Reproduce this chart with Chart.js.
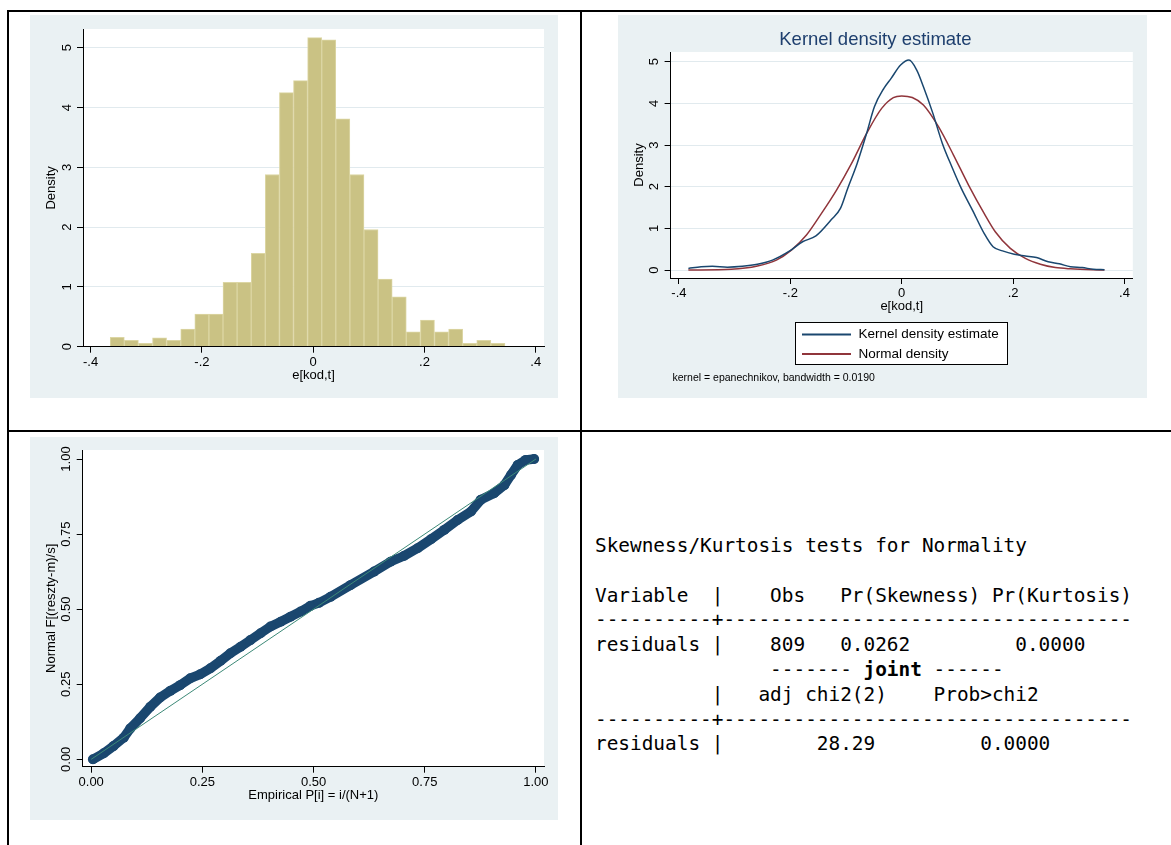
<!DOCTYPE html>
<html>
<head>
<meta charset="utf-8">
<title>Residual diagnostics</title>
<script src="https://cdn.jsdelivr.net/npm/chart.js@4.4.1/dist/chart.umd.min.js"></script>
<style>
  body { margin: 0; width: 1171px; height: 845px; background: #fff; position: relative; overflow: hidden; }
  .rule { position: absolute; background: #000; }
  .panel { position: absolute; background: #eaf1f3; }
  .panel canvas { display: block; }
  #sktest { position: absolute; left: 595px; top: 534px; margin: 0; color: #000;
            font: 19.4px/24.8px "DejaVu Sans Mono", monospace; white-space: pre; }
</style>
</head>
<body>
<!-- table rules -->
<div class="rule" style="left:7px;top:10px;width:1164px;height:2px"></div>
<div class="rule" style="left:7px;top:10px;width:2px;height:835px"></div>
<div class="rule" style="left:580px;top:10px;width:2px;height:835px"></div>
<div class="rule" style="left:7px;top:430px;width:1164px;height:2px"></div>

<div class="panel" style="left:30px;top:15px;width:528px;height:383px"><canvas id="hist" width="528" height="383"></canvas></div>
<div class="panel" style="left:618px;top:15px;width:529px;height:383px"><canvas id="kdens" width="529" height="383"></canvas></div>
<div class="panel" style="left:30px;top:437px;width:528px;height:383px"><canvas id="pnorm" width="528" height="383"></canvas></div>

<pre id="sktest">Skewness/Kurtosis tests for Normality

Variable  |    Obs   Pr(Skewness) Pr(Kurtosis)
----------+-----------------------------------
residuals |    809   0.0262         0.0000
               ------- <b>joint</b> ------
          |   adj chi2(2)    Prob>chi2
----------+-----------------------------------
residuals |        28.29         0.0000</pre>

<script>
// histogram of e[kod,t] (28 bins)
const binCenters = [-0.3521, -0.3268, -0.3014, -0.2761, -0.2507, -0.2254, -0.2001, -0.1747, -0.1494, -0.1240,
  -0.0987, -0.0734, -0.0480, -0.0227, 0.0027, 0.0280, 0.0533, 0.0787, 0.1040, 0.1294,
  0.1547, 0.1800, 0.2054, 0.2307, 0.2561, 0.2814, 0.3067, 0.3321];
const binDensity = [0.156, 0.106, 0.056, 0.150, 0.106, 0.295, 0.546, 0.546, 1.076, 1.076,
  1.56, 2.88, 4.25, 4.45, 5.17, 5.13, 3.81, 2.88, 1.96, 1.13,
  0.836, 0.25, 0.446, 0.25, 0.295, 0.056, 0.106, 0.056];

// kernel density estimate vs normal density
const kdeX = [-0.383, -0.36, -0.34, -0.313, -0.286, -0.259, -0.232, -0.201, -0.178, -0.154,
  -0.127, -0.110, -0.097, -0.080, -0.063, -0.049, -0.032, -0.019, -0.002, 0.013,
  0.027, 0.039, 0.056, 0.073, 0.090, 0.107, 0.127, 0.148, 0.164, 0.181,
  0.202, 0.222, 0.242, 0.263, 0.283, 0.303, 0.324, 0.344, 0.364];
const kdeY = [0.04, 0.08, 0.09, 0.07, 0.09, 0.14, 0.24, 0.46, 0.68, 0.82,
  1.2, 1.48, 1.96, 2.56, 3.28, 3.92, 4.36, 4.6, 4.92, 5.04,
  4.8, 4.4, 3.76, 3.04, 2.48, 1.96, 1.44, 0.88, 0.56, 0.46,
  0.38, 0.34, 0.3, 0.2, 0.15, 0.08, 0.06, 0.02, 0.01];
const normX = [-0.383, -0.306, -0.259, -0.225, -0.198, -0.171, -0.144, -0.117, -0.090, -0.063,
  -0.036, -0.015, 0, 0.019, 0.039, 0.066, 0.093, 0.120, 0.148, 0.168,
  0.195, 0.222, 0.249, 0.276, 0.303, 0.364];
const normY = [0.0, 0.02, 0.1, 0.24, 0.48, 0.84, 1.36, 1.92, 2.56, 3.28,
  3.88, 4.14, 4.18, 4.14, 3.96, 3.44, 2.76, 2.04, 1.36, 0.92,
  0.52, 0.28, 0.14, 0.06, 0.03, 0.0];

// standardized normal probability plot
const ppX = [0.004, 0.028, 0.050, 0.073, 0.088, 0.110, 0.133, 0.155, 0.178, 0.200,
  0.223, 0.245, 0.268, 0.291, 0.313, 0.336, 0.358, 0.381, 0.403, 0.426,
  0.448, 0.471, 0.493, 0.512, 0.538, 0.583, 0.636, 0.673, 0.703, 0.734,
  0.764, 0.794, 0.824, 0.854, 0.876, 0.906, 0.929, 0.944, 0.959, 0.977, 0.996];
const ppY = [0.000, 0.020, 0.044, 0.072, 0.103, 0.137, 0.175, 0.206, 0.228, 0.247,
  0.270, 0.283, 0.303, 0.328, 0.353, 0.375, 0.397, 0.420, 0.442, 0.458,
  0.475, 0.492, 0.511, 0.521, 0.541, 0.580, 0.625, 0.658, 0.677, 0.703,
  0.733, 0.764, 0.797, 0.825, 0.864, 0.886, 0.913, 0.947, 0.980, 0.997, 1.000];
const refLine = [0, 1];

// tick values and labels
const residTicks = [-0.4, -0.2, 0, 0.2, 0.4];
const residLabels = ['-.4', '-.2', '0', '.2', '.4'];
const densityTicks = [0, 1, 2, 3, 4, 5];
const densityLabels = ['0', '1', '2', '3', '4', '5'];
const probTicks = [0, 0.25, 0.5, 0.75, 1];
const probLabels = ['0.00', '0.25', '0.50', '0.75', '1.00'];

const FONT = '"Liberation Sans", Arial, sans-serif';
const INK = '#000';
const GRID = '#e1eaee';
const NAVY = '#1a476f';
const MAROON = '#90353b';

// width of the widest label, used to centre the rotated y labels
const meter = document.createElement('canvas').getContext('2d');
const widest = (labels, size) => {
  meter.font = `${size}px ${FONT}`;
  return Math.max(...labels.map(l => meter.measureText(l).width));
};

// white plot region on the grey graph region
const plotRegion = {
  id: 'plotRegion',
  beforeDraw(chart) {
    const { ctx, chartArea: a } = chart;
    ctx.save();
    ctx.fillStyle = '#fff';
    ctx.fillRect(a.left, a.top, a.right - a.left, a.bottom - a.top);
    ctx.restore();
  }
};

// stata style legend box plus the note under it
const boxLegend = {
  id: 'boxLegend',
  afterDraw(chart, args, opts) {
    if (!opts.box) return;
    const { ctx } = chart;
    const [bx, by, bw, bh] = opts.box;
    ctx.save();
    ctx.fillStyle = '#fff';
    ctx.fillRect(bx, by, bw, bh);
    ctx.strokeStyle = INK;
    ctx.lineWidth = 1;
    ctx.strokeRect(bx + 0.5, by + 0.5, bw - 1, bh - 1);
    ctx.font = `13.5px ${FONT}`;
    ctx.textBaseline = 'middle';
    chart.data.datasets.forEach((ds, i) => {
      const y = by + 12.6 + i * 19.4;
      ctx.strokeStyle = ds.borderColor;
      ctx.lineWidth = 2;
      ctx.beginPath();
      ctx.moveTo(bx + 7, y);
      ctx.lineTo(bx + 56, y);
      ctx.stroke();
      ctx.fillStyle = INK;
      ctx.fillText(ds.label, bx + 63.5, y);
    });
    ctx.font = `10.5px ${FONT}`;
    ctx.fillText(opts.note, opts.noteAt[0], opts.noteAt[1]);
    ctx.restore();
  }
};

const xAxis = ({ min, max, ticks, labels, title }) => ({
  type: 'linear',
  min,
  max,
  offset: false,
  afterBuildTicks: s => { s.ticks = ticks.map(value => ({ value })); },
  afterFit: s => { s.height = 38; s.paddingLeft = 0; s.paddingRight = 0; },
  grid: { drawOnChartArea: false, offset: false, tickLength: 6, tickColor: INK },
  border: { color: INK, width: 1, z: 1 },
  ticks: {
    autoSkip: false, maxRotation: 0, padding: 2, color: INK,
    font: { family: FONT, size: 13 },
    callback: (v, i) => labels[i]
  },
  title: {
    display: true, text: title, color: INK,
    font: { family: FONT, size: 13 },
    padding: { top: 0, bottom: 1.3 }
  }
});

const yAxis = ({ min, max, ticks, labels, title, width, grid }) => ({
  type: 'linear',
  min,
  max,
  afterBuildTicks: s => { s.ticks = ticks.map(value => ({ value })); },
  afterFit: s => { s.width = width; s.paddingTop = 0; s.paddingBottom = 0; },
  grid: {
    drawOnChartArea: !!grid,
    color: grid || INK,
    tickLength: 6,
    tickColor: INK
  },
  border: { color: INK, width: 1, z: 1 },
  ticks: {
    autoSkip: false, minRotation: 90, maxRotation: 90, crossAlign: 'center',
    padding: 16 - 6 - widest(labels, 13) / 2,
    color: INK,
    font: { family: FONT, size: 13 },
    callback: (v, i) => labels[i]
  },
  title: {
    display: true, text: title, color: INK,
    font: { family: FONT, size: 13 },
    padding: { top: width - 31.5 - 7.8, bottom: 0 }
  }
});

const common = {
  responsive: false,
  animation: false,
  events: []
};

// histogram
new Chart(document.getElementById('hist'), {
  type: 'bar',
  data: {
    datasets: [{
      data: binCenters.map((x, i) => ({ x, y: binDensity[i] })),
      backgroundColor: '#cac284',
      borderColor: '#dcd6a4',
      borderWidth: 1,
      barPercentage: 1,
      categoryPercentage: 1
    }]
  },
  options: {
    ...common,
    layout: { padding: { left: 0, top: 14, right: 14, bottom: 13.3 } },
    plugins: { legend: { display: false }, tooltip: { enabled: false } },
    scales: {
      x: xAxis({ min: -0.4137, max: 0.4149, ticks: residTicks, labels: residLabels, title: 'e[kod,t]' }),
      y: yAxis({ min: 0, max: 5.313, ticks: densityTicks, labels: densityLabels, title: 'Density', width: 53, grid: GRID })
    }
  },
  plugins: [plotRegion]
});

// kernel density
new Chart(document.getElementById('kdens'), {
  type: 'line',
  data: {
    datasets: [{
      label: 'Kernel density estimate',
      data: kdeX.map((x, i) => ({ x, y: kdeY[i] })),
      borderColor: NAVY,
      borderWidth: 1.5,
      pointRadius: 0,
      cubicInterpolationMode: 'monotone'
    }, {
      label: 'Normal density',
      data: normX.map((x, i) => ({ x, y: normY[i] })),
      borderColor: MAROON,
      borderWidth: 1.5,
      pointRadius: 0,
      cubicInterpolationMode: 'monotone'
    }]
  },
  options: {
    ...common,
    layout: { padding: { left: 0, top: 0, right: 14.2, bottom: 82 } },
    plugins: {
      legend: { display: false },
      tooltip: { enabled: false },
      title: {
        display: true,
        text: 'Kernel density estimate',
        color: '#1e3f6e',
        font: { family: FONT, size: 18.5, weight: 'normal' },
        padding: { top: 13.9, bottom: 0.9 }
      },
      boxLegend: {
        box: [177, 307, 213, 43],
        note: 'kernel = epanechnikov, bandwidth = 0.0190',
        noteAt: [54.5, 363]
      }
    },
    scales: {
      x: xAxis({ min: -0.4149, max: 0.4149, ticks: residTicks, labels: residLabels, title: 'e[kod,t]' }),
      y: yAxis({ min: -0.19, max: 5.233, ticks: densityTicks, labels: densityLabels, title: 'Density', width: 52.6, grid: GRID })
    }
  },
  plugins: [plotRegion, boxLegend]
});

// normal probability plot
new Chart(document.getElementById('pnorm'), {
  type: 'line',
  data: {
    datasets: [{
      data: refLine.map(v => ({ x: v, y: v })),
      borderColor: '#3d8a78',
      borderWidth: 1,
      pointRadius: 0
    }, {
      data: ppX.map((x, i) => ({ x, y: ppY[i] })),
      borderColor: NAVY,
      borderWidth: 9.5,
      borderJoinStyle: 'round',
      borderCapStyle: 'round',
      backgroundColor: NAVY,
      pointRadius: 5,
      pointBorderWidth: 0
    }]
  },
  options: {
    ...common,
    layout: { padding: { left: 0, top: 13, right: 14, bottom: 15.3 } },
    plugins: { legend: { display: false }, tooltip: { enabled: false } },
    scales: {
      x: xAxis({ min: -0.0191, max: 1.0182, ticks: probTicks, labels: probLabels, title: 'Empirical P[i] = i/(N+1)' }),
      y: yAxis({ min: -0.0246, max: 1.03, ticks: probTicks, labels: probLabels, title: 'Normal F[(reszty-m)/s]', width: 52.7 })
    }
  },
  plugins: [plotRegion]
});
</script>
</body>
</html>
